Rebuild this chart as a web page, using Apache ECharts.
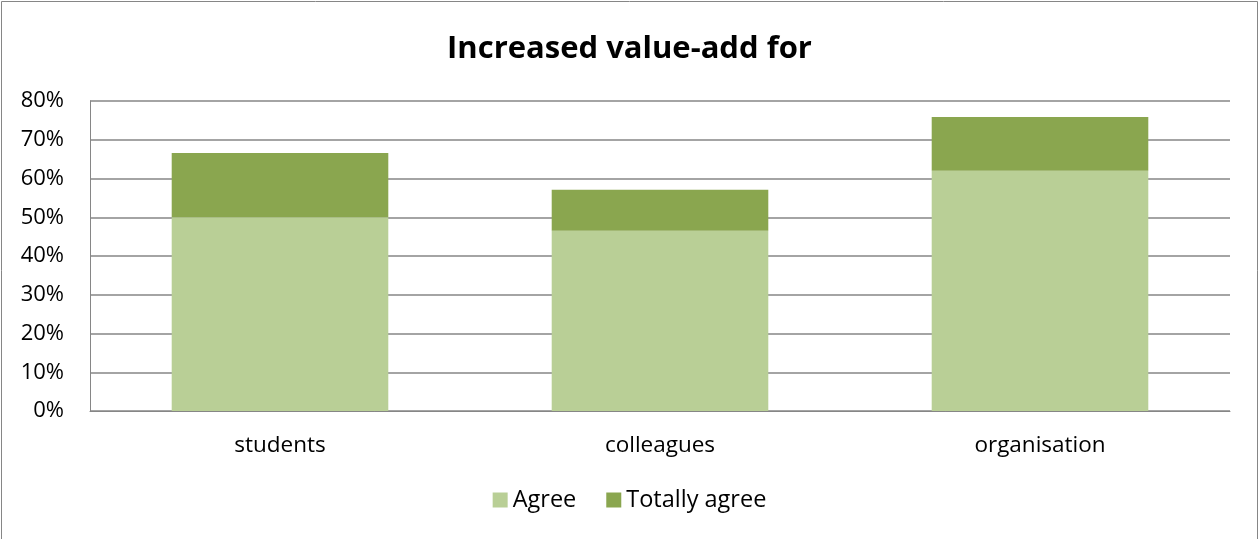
<!DOCTYPE html>
<html><head><meta charset="utf-8">
<script src="https://cdn.jsdelivr.net/npm/echarts@6/dist/echarts.min.js"></script>
<style>html,body{margin:0;padding:0;background:#fff}#c{width:1259px;height:539px}</style>
</head><body><div id="c"></div>
<script>
const categories = ['students', 'colleagues', 'organisation'];
const agree = [50.0, 46.5, 62.0];
const totallyAgree = [16.6, 10.6, 13.9];
const yTicks = [0, 10, 20, 30, 40, 50, 60, 70, 80];

const chart = echarts.init(document.getElementById('c'));
const font = '"Open Sans", Lato, sans-serif';
chart.setOption({
  animation: false,
  backgroundColor: '#fff',
  graphic: [{type: 'rect', shape: {x: 1.5, y: 1.5, width: 1256, height: 545}, style: {fill: 'none', stroke: '#868686', lineWidth: 1}}],
  title: {text: 'Increased value-add for', left: 'center', top: 29,
    textStyle: {fontFamily: font, fontSize: 31, fontWeight: 'bold', color: '#000'}},
  legend: {bottom: 22, left: 'center', itemWidth: 15, itemHeight: 15, itemGap: 30,
    icon: 'rect', textStyle: {fontFamily: font, fontSize: 23.5, color: '#000'},
    data: ['Agree', 'Totally agree']},
  grid: {left: 90, right: 29, top: 101, bottom: 128},
  xAxis: {type: 'category', data: categories,
    axisLine: {lineStyle: {color: '#868686'}}, axisTick: {show: false},
    axisLabel: {fontFamily: font, fontSize: 22.5, color: '#000', margin: 23}},
  yAxis: {type: 'value', min: 0, max: 80, interval: 10,
    axisLine: {show: true, lineStyle: {color: '#868686'}}, axisTick: {show: false},
    splitLine: {lineStyle: {color: '#868686', width: 1.5}},
    axisLabel: {fontFamily: font, fontSize: 22, color: '#000', margin: 26,
      formatter: v => yTicks.includes(v) ? v + '%' : ''}},
  series: [
    {name: 'Agree', type: 'bar', stack: 's', data: agree, barWidth: '57%',
      itemStyle: {color: '#b9cf96'}},
    {name: 'Totally agree', type: 'bar', stack: 's', data: totallyAgree, barWidth: '57%',
      itemStyle: {color: '#8aa64f'}}
  ]
});
</script></body></html>
